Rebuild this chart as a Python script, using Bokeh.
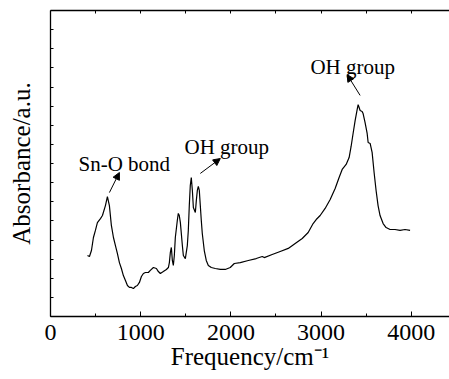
from bokeh.plotting import figure
from bokeh.models import (Range1d, LinearAxis, FixedTicker, Label, Arrow, NormalHead)
from bokeh.embed import file_html
from bokeh.resources import INLINE

# FTIR spectrum (frequency in cm^-1, absorbance in arbitrary units)
frequency = [410, 432, 454, 476, 498, 520, 554, 576, 609, 631, 653, 675, 698, 720, 742, 764,
             786, 808, 831, 853, 875, 897, 919, 941, 963, 986, 1008, 1030, 1052, 1085, 1107,
             1141, 1174, 1196, 1218, 1251, 1285, 1307, 1318, 1329, 1340, 1351, 1362, 1373,
             1384, 1406, 1417, 1428, 1440, 1462, 1473, 1495, 1517, 1528, 1539, 1550, 1561,
             1573, 1584, 1606, 1617, 1628, 1639, 1650, 1661, 1672, 1683, 1705, 1727, 1750,
             1783, 1827, 1883, 1938, 1993, 2038, 2104, 2193, 2281, 2348, 2370, 2458, 2547,
             2636, 2713, 2791, 2857, 2912, 2946, 2990, 3045, 3101, 3156, 3200, 3234, 3278,
             3311, 3333, 3355, 3378, 3400, 3411, 3422, 3433, 3455, 3466, 3488, 3511, 3522,
             3544, 3566, 3588, 3610, 3632, 3654, 3688, 3721, 3765, 3820, 3876, 3931, 3987]
absorbance = [0.319, 0.314, 0.345, 0.413, 0.450, 0.491, 0.512, 0.528, 0.580, 0.627, 0.580,
              0.476, 0.413, 0.371, 0.329, 0.282, 0.251, 0.214, 0.188, 0.162, 0.152, 0.152,
              0.146, 0.157, 0.162, 0.178, 0.209, 0.225, 0.230, 0.230, 0.241, 0.256, 0.251,
              0.235, 0.225, 0.235, 0.246, 0.256, 0.282, 0.335, 0.361, 0.293, 0.267, 0.319,
              0.413, 0.502, 0.539, 0.528, 0.491, 0.371, 0.319, 0.303, 0.371, 0.450, 0.580,
              0.685, 0.727, 0.659, 0.570, 0.544, 0.607, 0.659, 0.680, 0.659, 0.580, 0.502,
              0.434, 0.345, 0.293, 0.267, 0.256, 0.251, 0.246, 0.246, 0.256, 0.277, 0.282,
              0.293, 0.303, 0.314, 0.308, 0.324, 0.340, 0.356, 0.382, 0.408, 0.439, 0.486,
              0.507, 0.528, 0.565, 0.612, 0.669, 0.727, 0.769, 0.795, 0.831, 0.889, 0.957,
              1.025, 1.082, 1.108, 1.093, 1.077, 1.072, 1.061, 1.014, 0.957, 0.910, 0.905,
              0.858, 0.753, 0.659, 0.580, 0.528, 0.486, 0.465, 0.455, 0.455, 0.450, 0.455,
              0.450]

x_ticks = [0, 1000, 2000, 3000, 4000]
x_minor = [500, 1500, 2500, 3500, 4500]
top_ticks = [500, 1000, 1500, 2000, 2500, 3000, 3500, 4000]
y_ticks = [i / 10 for i in range(17)]

annotations = ["Sn-O bond", "OH group", "OH group"]
ann_x = [310, 1486, 2882]
ann_y = [0.80, 0.884, 1.302]
arrow_start = [(653, 0.648), (1661, 0.748), (3433, 1.156)]
arrow_end = [(764, 0.753), (1883, 0.826), (3289, 1.265)]

x_title = "Frequency/cm\u207b\u00b9"
y_title = "Absorbance/a.u."

SERIF = "Liberation Serif"

p = figure(width=449, height=379, output_backend="svg", toolbar_location=None,
           x_range=Range1d(0, 4424), y_range=Range1d(0, 1.6),
           x_axis_type=None, y_axis_type=None)
p.min_border_left = 50
p.min_border_right = 0
p.min_border_top = 10
p.min_border_bottom = 63
p.outline_line_color = None
p.xgrid.visible = False
p.ygrid.visible = False
p.background_fill_color = "white"
p.border_fill_color = "white"

# bottom axis
xa = LinearAxis(ticker=FixedTicker(ticks=x_ticks, minor_ticks=x_minor))
xa.major_tick_in = 5
xa.major_tick_out = 0
xa.minor_tick_in = 3
xa.minor_tick_out = 0
xa.axis_line_width = 1.3
xa.major_label_text_font = SERIF
xa.major_label_text_font_size = "24px"
xa.major_label_text_color = "black"
xa.major_label_standoff = 8
xa.axis_label = x_title
xa.axis_label_text_font = SERIF
xa.axis_label_text_font_size = "25px"
xa.axis_label_text_font_style = "normal"
xa.axis_label_text_color = "black"
xa.axis_label_standoff = 0
p.add_layout(xa, "below")

# top axis (ticks only)
ta = LinearAxis(ticker=FixedTicker(ticks=top_ticks))
ta.major_tick_in = 3
ta.major_tick_out = 0
ta.minor_tick_line_color = None
ta.axis_line_width = 1.3
ta.major_label_text_color = None
ta.major_label_standoff = 0
p.add_layout(ta, "above")

# left axis (ticks only, with title)
ya = LinearAxis(ticker=FixedTicker(ticks=y_ticks))
ya.major_tick_in = 3
ya.major_tick_out = 0
ya.minor_tick_line_color = None
ya.axis_line_width = 1.3
ya.major_label_text_color = None
ya.major_label_standoff = 0
ya.axis_label = y_title
ya.axis_label_text_font = SERIF
ya.axis_label_text_font_size = "25px"
ya.axis_label_text_font_style = "normal"
ya.axis_label_text_color = "black"
ya.axis_label_standoff = 16
p.add_layout(ya, "left")

p.line(frequency, absorbance, line_color="black", line_width=1.2)

for t, x, y in zip(annotations, ann_x, ann_y):
    p.add_layout(Label(x=x, y=y, text=t, text_font=SERIF, text_font_size="21px",
                       text_color="black", text_baseline="alphabetic", text_align="left"))

for (x0, y0), (x1, y1) in zip(arrow_start, arrow_end):
    p.add_layout(Arrow(x_start=x0, y_start=y0, x_end=x1, y_end=y1, line_width=1,
                       line_color="black",
                       end=NormalHead(size=7, fill_color="black", line_color="black")))

open("out.html", "w").write(file_html(p, INLINE))
